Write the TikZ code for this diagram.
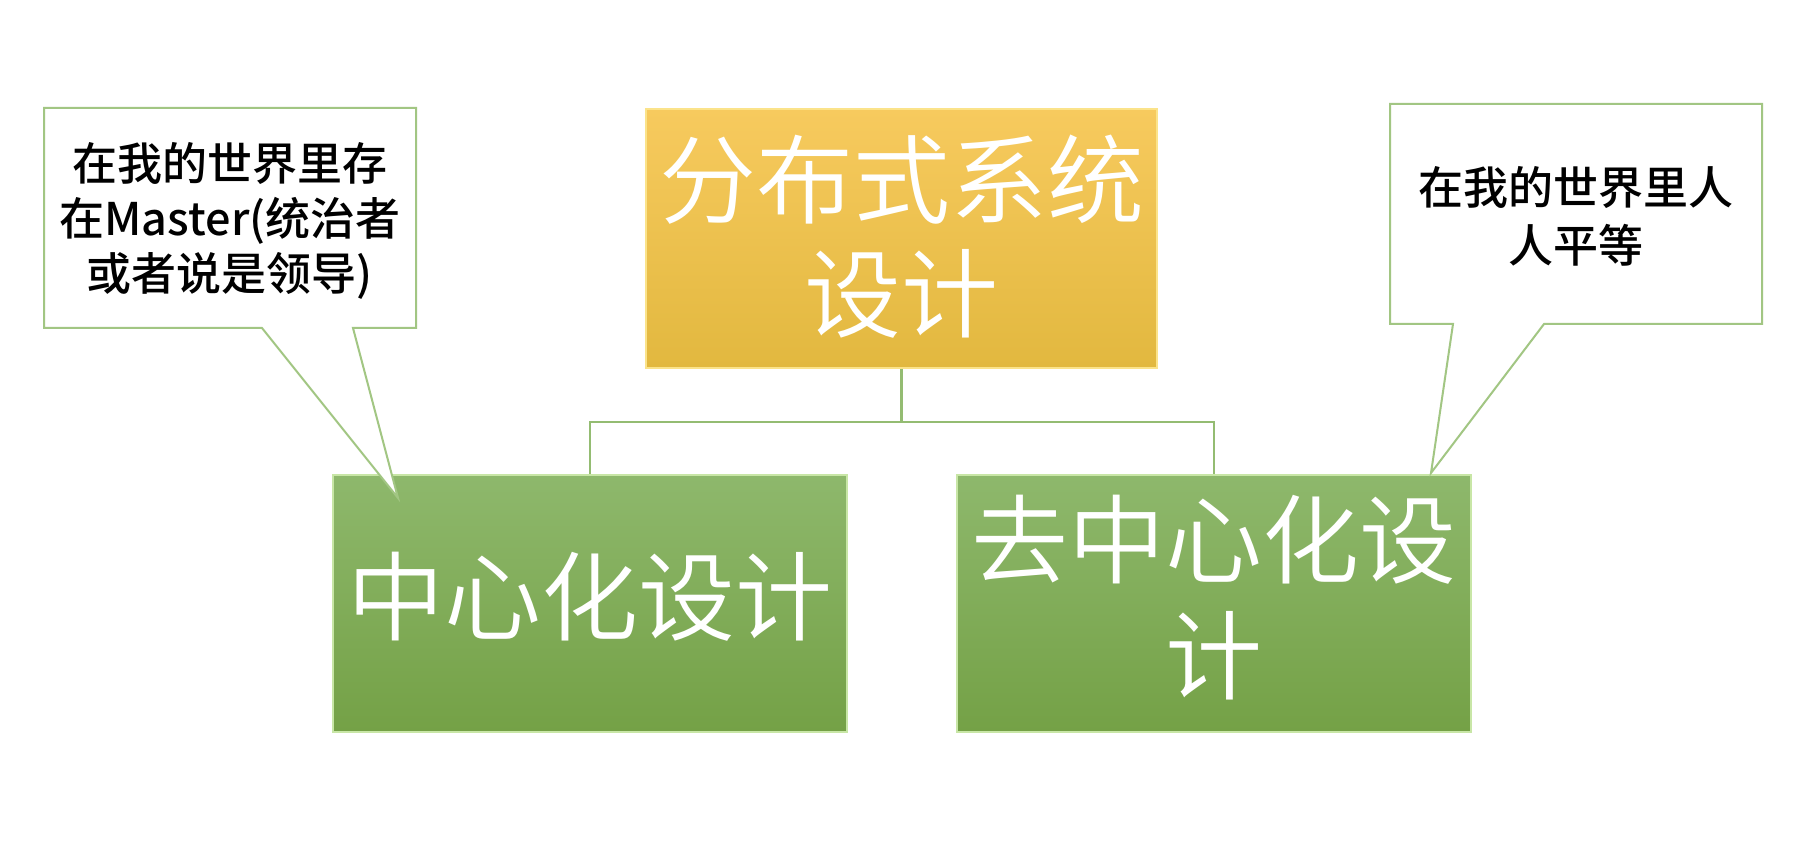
\documentclass[tikz,border=0pt]{standalone}
\usepackage{fontspec}
\setmainfont{Noto Sans CJK SC Medium}
\newfontfamily\cjklight{Noto Sans CJK SC DemiLight}
\definecolor{ytop}{HTML}{F7CA5E}
\definecolor{ybot}{HTML}{E2B83F}
\definecolor{yedge}{HTML}{FBE38A}
\definecolor{gtop}{HTML}{8EB86C}
\definecolor{gbot}{HTML}{74A146}
\definecolor{gedge}{HTML}{C8E6A6}
\definecolor{lcol}{HTML}{94BC72}
\definecolor{ccol}{HTML}{A2C683}
\begin{document}
\begin{tikzpicture}[x=1pt,y=-1pt,
  topbox/.style={rectangle, inner sep=0pt, minimum width=511pt, minimum height=259pt,
    top color=ytop, bottom color=ybot, draw=yedge, line width=2.5pt},
  greenbox/.style={rectangle, inner sep=0pt, minimum width=514pt, minimum height=257pt,
    top color=gtop, bottom color=gbot, draw=gedge, line width=2.5pt},
  bigtext/.style={inner sep=0pt, text=white, align=center,
    font=\cjklight\fontsize{97}{#1}\selectfont},
  conn/.style={draw=lcol, line width=2.5pt},
  callout/.style={draw=ccol, fill=white, line width=2pt, line join=miter},
  ctext/.style={font=\fontsize{45}{#1}\selectfont, align=center, text=black, inner sep=0pt}
]
\useasboundingbox[fill=white] (0,0) rectangle (1802,850);

% boxes
\node[topbox] (top) at (901.5,238.5) {};
\node[greenbox] (left) at (590,603.5) {};
\node[greenbox] (right) at (1214,603.5) {};
\node[bigtext=114] (toptext) at ([yshift=2pt]top.center) {分布式系统\\设计};
\node[bigtext=118] (lefttext) at ([yshift=7pt]left.center) {中心化设计};
\node[bigtext=116] (righttext) at ([yshift=6pt]right.center) {去中心化设\\计};

% connectors
\coordinate (bus) at (901.5,422);
\draw[conn] (top.south) -- (bus);
\draw[conn] (left.north) |- (bus) -| (right.north);

% left callout
\coordinate (ltip) at (398,498);
\draw[callout] (44,108) -- (416,108) -- (416,328) -- (353,328) -- (ltip) -- (262,328) -- (44,328) -- cycle;
\node[ctext=55] (lnote) at (230,221) {在我的世界里存\\在Master(统治者\\或者说是领导)};

% right callout
\coordinate (rtip) at (1431,473);
\draw[callout] (1390,104) -- (1762,104) -- (1762,324) -- (1544,324) -- (rtip) -- (1453,324) -- (1390,324) -- cycle;
\node[ctext=58] (rnote) at (1576,216) {在我的世界里人\\人平等};
\end{tikzpicture}
\end{document}
